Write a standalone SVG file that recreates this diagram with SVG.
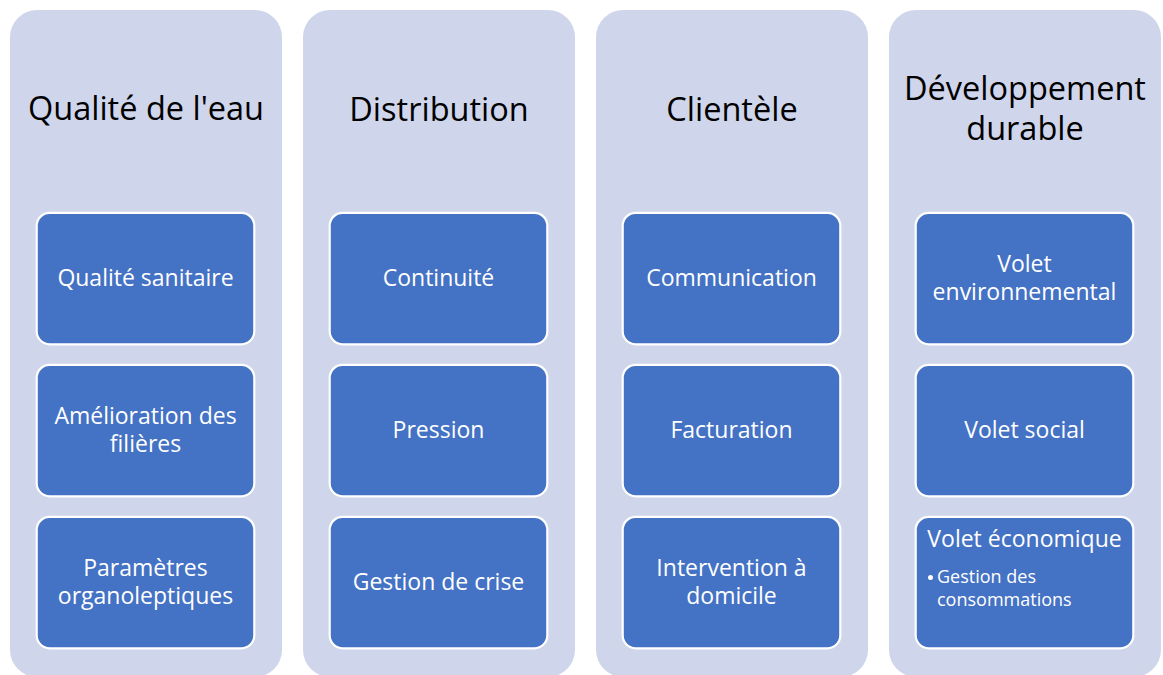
<svg xmlns="http://www.w3.org/2000/svg" width="1163" height="675" viewBox="0 0 1163 675">
<style>
.panel{fill:#CFD5EA;}
.box{fill:#4472C4;stroke:#FFFFFF;stroke-width:2.2;}
.title{font-family:"Open Sans","Liberation Sans",sans-serif;font-size:32.5px;fill:#000000;text-anchor:middle;}
.lbl{font-family:"Open Sans","Liberation Sans",sans-serif;font-size:23px;fill:#FFFFFF;text-anchor:middle;}
.sub{font-family:"Open Sans","Liberation Sans",sans-serif;font-size:18px;fill:#FFFFFF;}
</style>
<rect width="1163" height="675" fill="#FFFFFF"/>
<g id="col-qualite">
<rect class="panel" x="10" y="10" width="272" height="667" rx="27"/>
<text class="title" x="146" y="120">Qualité de l'eau</text>
</g>
<g id="node-qualite-sanitaire"><rect class="box" x="36.7" y="212.8" width="217.6" height="131.5" rx="13"/><text class="lbl" x="145.5" y="286">Qualité sanitaire</text></g>
<g id="node-amelioration"><rect class="box" x="36.7" y="364.8" width="217.6" height="131.5" rx="13"/><text class="lbl"><tspan x="145.5" y="424.3">Amélioration des</tspan><tspan x="145.5" y="451.8">filières</tspan></text></g>
<g id="node-parametres"><rect class="box" x="36.7" y="516.8" width="217.6" height="131.5" rx="13"/><text class="lbl"><tspan x="145.5" y="576.3">Paramètres</tspan><tspan x="145.5" y="603.8">organoleptiques</tspan></text></g>

<g id="col-distribution">
<rect class="panel" x="303" y="10" width="272" height="667" rx="27"/>
<text class="title" x="439" y="120.5">Distribution</text>
</g>
<g id="node-continuite"><rect class="box" x="329.7" y="212.8" width="217.6" height="131.5" rx="13"/><text class="lbl" x="438.5" y="286">Continuité</text></g>
<g id="node-pression"><rect class="box" x="329.7" y="364.8" width="217.6" height="131.5" rx="13"/><text class="lbl" x="438.5" y="438">Pression</text></g>
<g id="node-crise"><rect class="box" x="329.7" y="516.8" width="217.6" height="131.5" rx="13"/><text class="lbl" x="438.5" y="590">Gestion de crise</text></g>

<g id="col-clientele">
<rect class="panel" x="596" y="10" width="272" height="667" rx="27"/>
<text class="title" x="732" y="120.5">Clientèle</text>
</g>
<g id="node-communication"><rect class="box" x="622.7" y="212.8" width="217.6" height="131.5" rx="13"/><text class="lbl" x="731.5" y="286">Communication</text></g>
<g id="node-facturation"><rect class="box" x="622.7" y="364.8" width="217.6" height="131.5" rx="13"/><text class="lbl" x="731.5" y="438">Facturation</text></g>
<g id="node-intervention"><rect class="box" x="622.7" y="516.8" width="217.6" height="131.5" rx="13"/><text class="lbl"><tspan x="731.5" y="576.3">Intervention à</tspan><tspan x="731.5" y="603.8">domicile</tspan></text></g>

<g id="col-developpement">
<rect class="panel" x="889" y="10" width="272" height="667" rx="27"/>
<text class="title"><tspan x="1025" y="100">Développement</tspan><tspan x="1025" y="140">durable</tspan></text>
</g>
<g id="node-environnemental"><rect class="box" x="915.7" y="212.8" width="217.6" height="131.5" rx="13"/><text class="lbl"><tspan x="1024.5" y="272.3">Volet</tspan><tspan x="1024.5" y="299.8">environnemental</tspan></text></g>
<g id="node-social"><rect class="box" x="915.7" y="364.8" width="217.6" height="131.5" rx="13"/><text class="lbl" x="1024.5" y="438">Volet social</text></g>
<g id="node-economique"><rect class="box" x="915.7" y="516.8" width="217.6" height="131.5" rx="13"/><text class="lbl" x="1024.5" y="546.7">Volet économique</text>
<circle cx="930.5" cy="577.5" r="2.5" fill="#FFFFFF"/>
<text class="sub"><tspan x="937" y="583.3">Gestion des</tspan><tspan x="937" y="606">consommations</tspan></text></g>
<g id="connectors"></g>
</svg>
